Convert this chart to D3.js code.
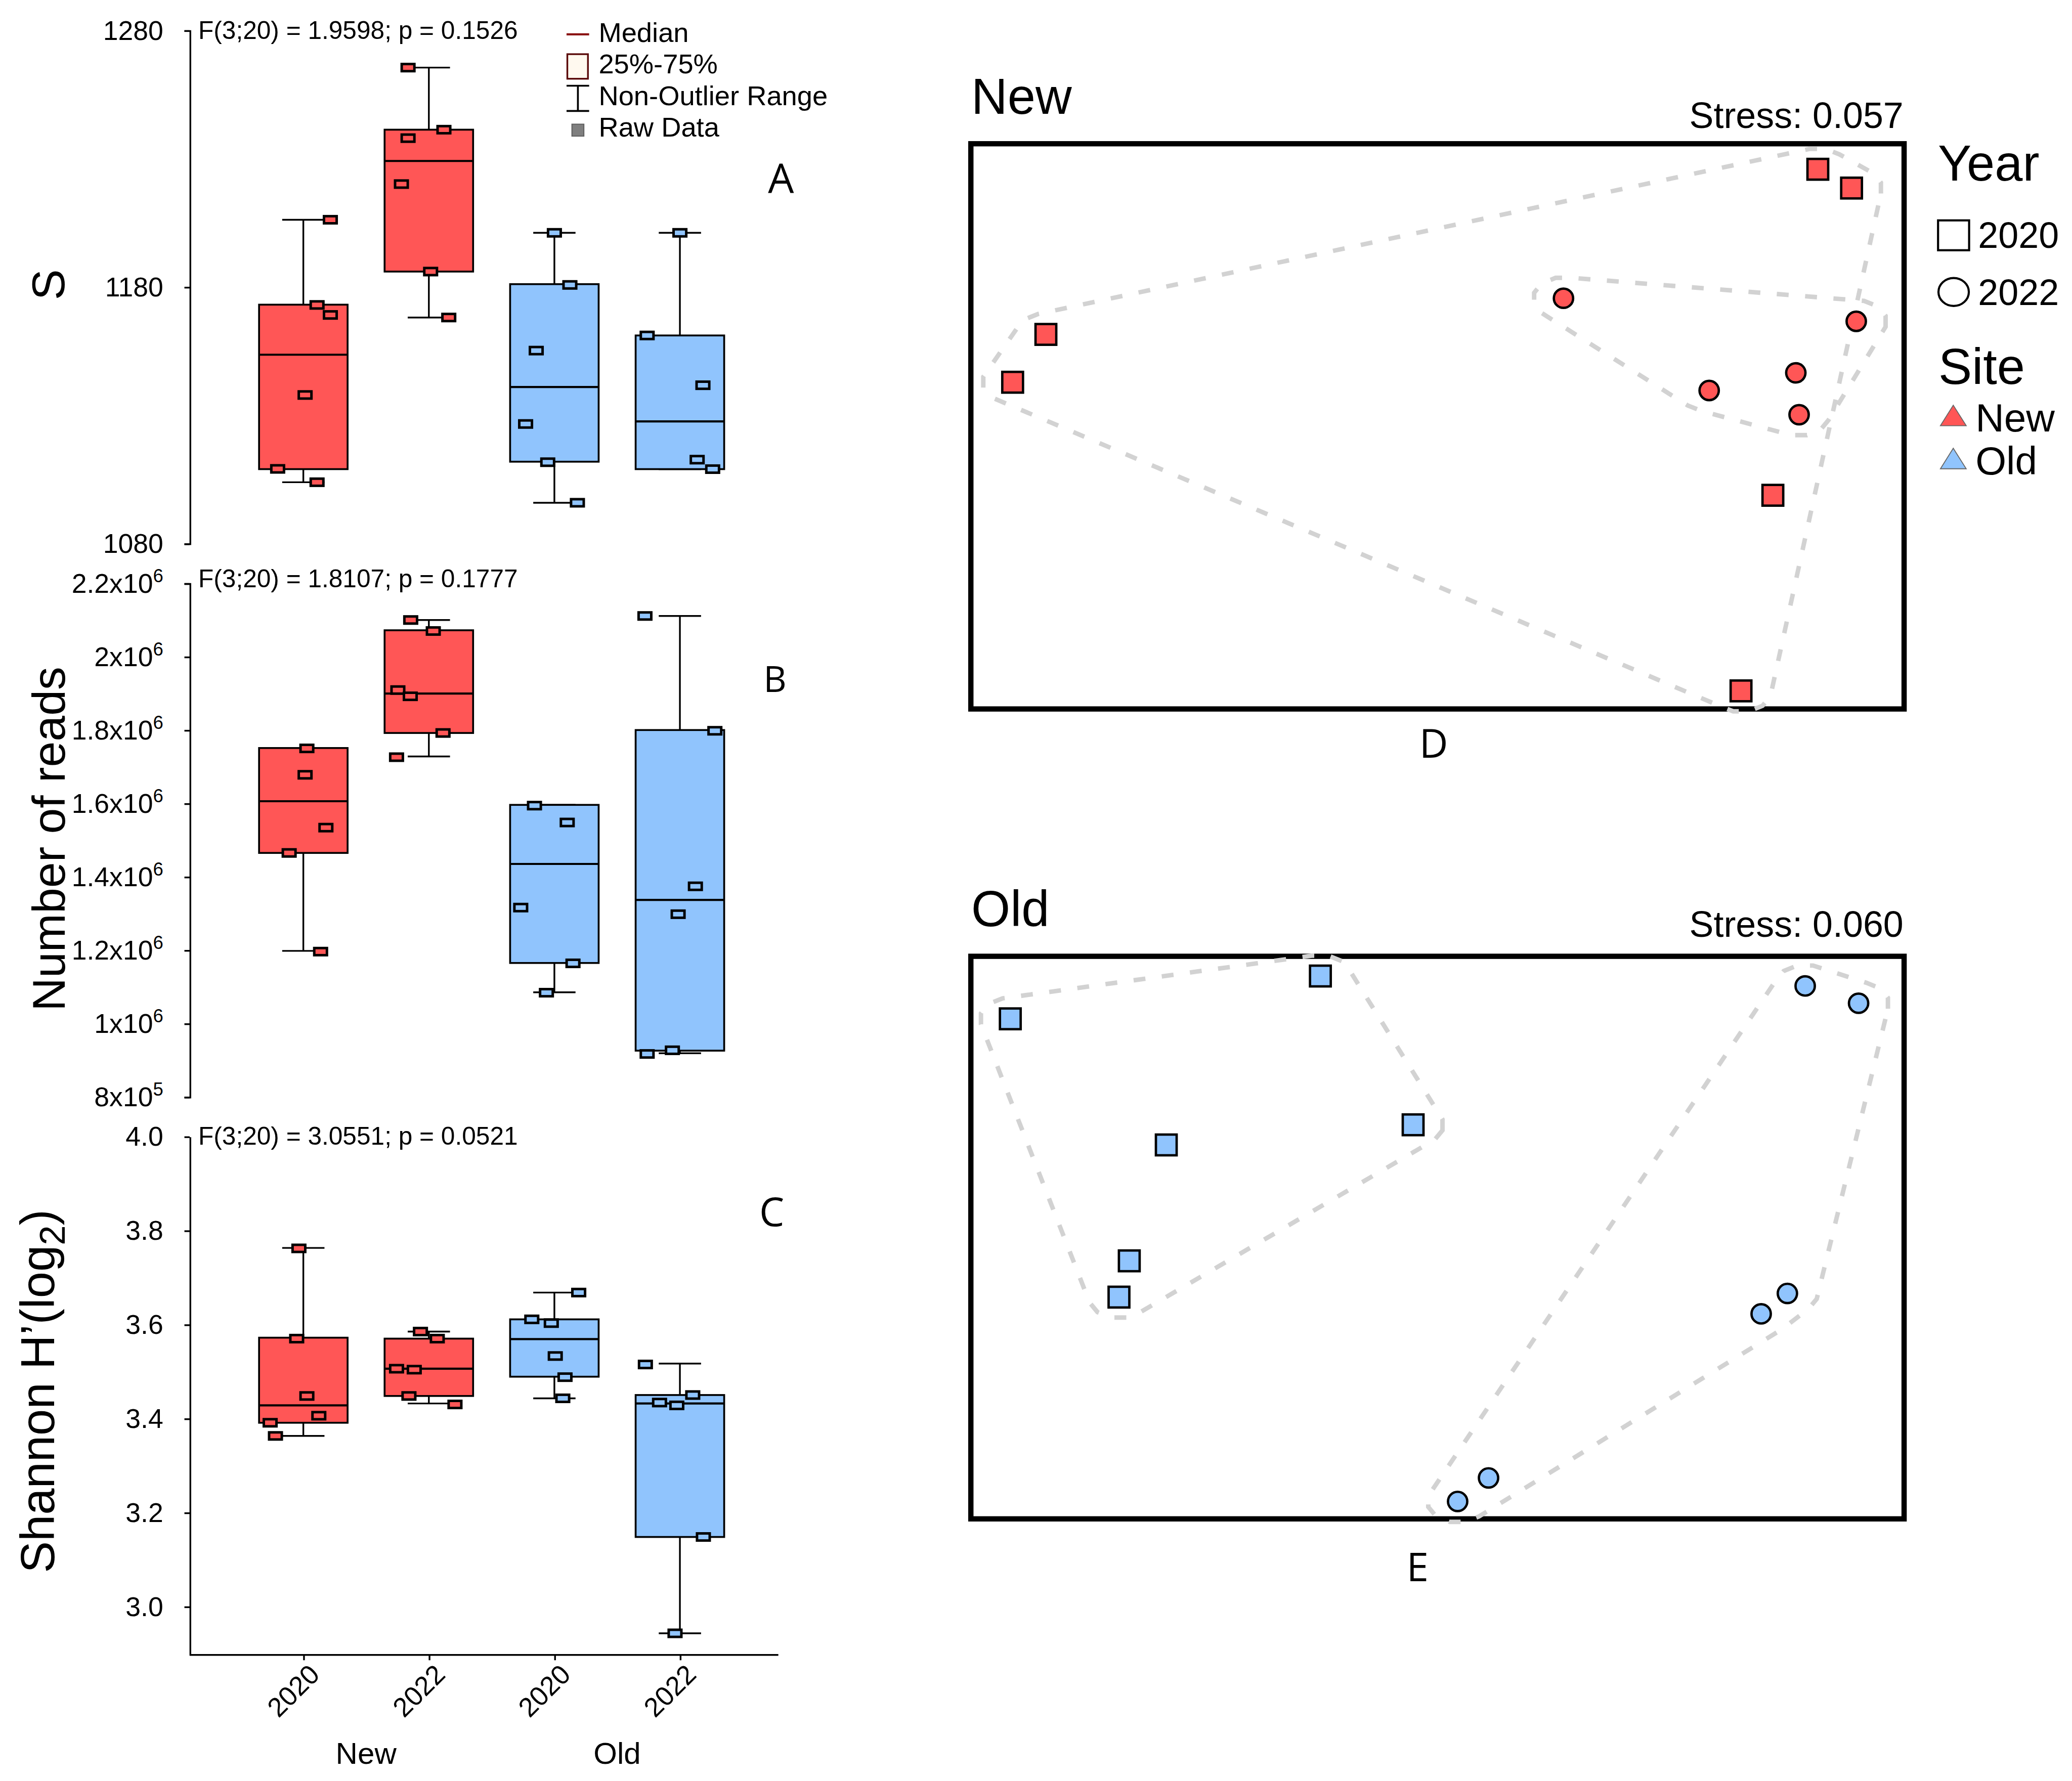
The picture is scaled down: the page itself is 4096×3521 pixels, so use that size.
<!DOCTYPE html>
<html>
<head>
<meta charset="utf-8">
<script src="https://cdn.jsdelivr.net/npm/d3@7"></script>
<style>
  body { margin: 0; background: #fff; }
  svg { display: block; font-family: "Liberation Sans", Arial, sans-serif; }
</style>
</head>
<body>
<script>
// box plot groups (site + sampling year)
const groups = ["New 2020", "New 2022", "Old 2020", "Old 2022"];
const groupSite = ["New", "New", "Old", "Old"];

// A: richness S
const sTicks = [1080, 1180, 1280];
const sMin = [1103.9, 1168.1, 1095.9, 1109.0];
const sQ1  = [1109.0, 1186.0, 1111.9, 1109.0];
const sMed = [1153.6, 1229.1, 1141.0, 1127.6];
const sQ3  = [1173.1, 1241.3, 1181.1, 1161.1];
const sMax = [1206.2, 1265.5, 1201.1, 1201.1];
const sRaw = [
  [1206.2, 1173.0, 1169.1, 1137.9, 1109.1, 1103.9],
  [1265.5, 1241.3, 1238.0, 1220.1, 1186.0, 1168.1],
  [1201.1, 1180.8, 1155.2, 1126.6, 1111.7, 1095.9],
  [1201.1, 1161.1, 1141.7, 1112.7, 1109.0]
];
const sJitter = [
  [0.61, 0.31, 0.61, 0.04, -0.58, 0.31],
  [-0.47, 0.34, -0.47, -0.62, 0.04, 0.45],
  [0, 0.35, -0.41, -0.65, -0.15, 0.52],
  [0, -0.74, 0.52, 0.39, 0.74]
];

// B: number of reads
const readsTicks = [8e5, 1e6, 1.2e6, 1.4e6, 1.6e6, 1.8e6, 2e6, 2.2e6];
const readsMin = [1.198e6, 1.728e6, 1.085e6, 0.919e6];
const readsQ1  = [1.465e6, 1.792e6, 1.165e6, 0.926e6];
const readsMed = [1.606e6, 1.8995e6, 1.435e6, 1.337e6];
const readsQ3  = [1.751e6, 2.072e6, 1.596e6, 1.800e6];
const readsMax = [1.751e6, 2.100e6, 1.596e6, 2.111e6];
const readsRaw = [
  [1.750e6, 1.678e6, 1.534e6, 1.465e6, 1.196e6],
  [2.100e6, 2.070e6, 1.909e6, 1.892e6, 1.792e6, 1.726e6],
  [1.594e6, 1.548e6, 1.316e6, 1.164e6, 1.084e6],
  [2.111e6, 1.798e6, 1.374e6, 1.298e6, 0.927e6, 0.917e6]
];
const readsJitter = [
  [0.08, 0.04, 0.51, -0.32, 0.39],
  [-0.41, 0.10, -0.70, -0.42, 0.32, -0.73],
  [-0.45, 0.29, -0.76, 0.42, -0.18],
  [-0.79, 0.79, 0.35, -0.04, -0.17, -0.74]
];

// C: Shannon H'
const hTicks = [3.0, 3.2, 3.4, 3.6, 3.8, 4.0];
const hMin = [3.363, 3.432, 3.443, 2.943];
const hQ1  = [3.391, 3.448, 3.489, 3.148];
const hMed = [3.428, 3.506, 3.569, 3.432];
const hQ3  = [3.572, 3.570, 3.611, 3.450];
const hMax = [3.763, 3.585, 3.668, 3.517];
const hRaw = [
  [3.762, 3.570, 3.448, 3.406, 3.391, 3.363],
  [3.585, 3.570, 3.506, 3.504, 3.448, 3.430],
  [3.668, 3.611, 3.603, 3.533, 3.488, 3.443],
  [3.515, 3.450, 3.434, 3.428, 3.148, 2.943]
];
const hJitter = [
  [-0.10, -0.15, 0.08, 0.35, -0.75, -0.63],
  [-0.19, 0.19, -0.73, -0.33, -0.45, 0.59],
  [0.55, -0.51, -0.07, 0.02, 0.24, 0.19],
  [-0.78, 0.29, -0.46, -0.07, 0.53, -0.11]
];

// D/E: NMDS scores (axes unlabelled in the figure)
const newSq2020X = [0.813, 0.885, -0.835, -0.906, 0.717, 0.649];
const newSq2020Y = [0.902, 0.836, 0.322, 0.154, -0.243, -0.930];
const newCi2022X = [0.270, 0.895, 0.766, 0.581, 0.773];
const newCi2022Y = [0.449, 0.368, 0.187, 0.125, 0.040];
const oldSq2020X = [-0.911, -0.249, -0.578, -0.051, -0.657, -0.679];
const oldSq2020Y = [0.771, 0.922, 0.326, 0.397, -0.083, -0.211];
const oldCi2022X = [0.786, 0.900, 0.748, 0.692, 0.110, 0.044];
const oldCi2022Y = [0.887, 0.826, -0.198, -0.270, -0.849, -0.932];

const siteColour = {New: "#ff5656", Old: "#90c4fd"};
const openSans = '"Open Sans", "Liberation Sans", sans-serif';

const svg = d3.select("body").append("svg")
    .attr("width", 4096)
    .attr("height", 3521)
    .attr("viewBox", "0 0 1568 1348");

const axisX = 143.5;
const x = d3.scalePoint().domain(groups).range([229.5, 514.5]);
const halfW = 33.5, capW = 16;

function boxPanel(cfg) {
  const y = d3.scaleLinear().domain(cfg.domain).range(cfg.range);
  const g = svg.append("g");

  const ag = g.append("g")
      .attr("transform", `translate(${axisX},0)`)
      .call(d3.axisLeft(y)
          .tickValues(cfg.ticks)
          .tickSize(4)
          .tickSizeOuter(cfg.outer)
          .tickPadding(16)
          .tickFormat(cfg.format))
      .attr("font-family", null)
      .attr("font-size", null);
  ag.selectAll("path, line").attr("stroke", "#000").attr("stroke-width", 1.3);
  ag.selectAll("text").attr("font-size", 20.5).attr("fill", "#000");
  if (cfg.post) cfg.post(ag);

  g.append("text")
      .attr("x", 150).attr("y", cfg.fY)
      .attr("font-size", 19)
      .text(cfg.fText);

  groups.forEach((grp, i) => {
    const cx = x(grp), col = siteColour[groupSite[i]];
    const wg = g.append("g").attr("stroke", "#000").attr("stroke-width", 1.3);
    wg.append("line").attr("x1", cx).attr("x2", cx).attr("y1", y(cfg.q3[i])).attr("y2", y(cfg.max[i]));
    wg.append("line").attr("x1", cx).attr("x2", cx).attr("y1", y(cfg.q1[i])).attr("y2", y(cfg.min[i]));
    wg.append("line").attr("x1", cx - capW).attr("x2", cx + capW).attr("y1", y(cfg.max[i])).attr("y2", y(cfg.max[i]));
    wg.append("line").attr("x1", cx - capW).attr("x2", cx + capW).attr("y1", y(cfg.min[i])).attr("y2", y(cfg.min[i]));

    g.append("rect")
        .attr("x", cx - halfW).attr("y", y(cfg.q3[i]))
        .attr("width", 2 * halfW).attr("height", y(cfg.q1[i]) - y(cfg.q3[i]))
        .attr("fill", col).attr("stroke", "#000").attr("stroke-width", 1.4);
    g.append("line")
        .attr("x1", cx - halfW).attr("x2", cx + halfW)
        .attr("y1", y(cfg.med[i])).attr("y2", y(cfg.med[i]))
        .attr("stroke", "#000").attr("stroke-width", 1.6);

    g.append("g").selectAll("rect")
      .data(cfg.raw[i].map((v, k) => [v, cfg.jitter[i][k]]))
      .join("rect")
        .attr("x", d => cx + d[1] * halfW - 4.8)
        .attr("y", d => y(d[0]) - 2.7)
        .attr("width", 9.6).attr("height", 5.4)
        .attr("fill", col).attr("stroke", "#000").attr("stroke-width", 1.9);
  });

  g.append("text")
      .attr("x", cfg.letterX).attr("y", cfg.letterY)
      .attr("text-anchor", "middle")
      .attr("font-family", openSans)
      .attr("font-size", cfg.letterSize)
      .text(cfg.letter);

  g.append("text")
      .attr("transform", `translate(${cfg.titleX},${cfg.titleY}) rotate(-90)`)
      .attr("text-anchor", "middle")
      .attr("font-size", cfg.titleSize)
      .call(cfg.title);
  return y;
}

// A
boxPanel({
  domain: [1080, 1280], range: [411.4, 23.0], ticks: sTicks, outer: 4, format: d => d,
  min: sMin, q1: sQ1, med: sMed, q3: sQ3, max: sMax, raw: sRaw, jitter: sJitter,
  fText: "F(3;20) = 1.9598; p = 0.1526", fY: 29.5,
  letter: "A", letterX: 591, letterY: 146, letterSize: 31,
  title: t => t.text("S"), titleX: 48.5, titleY: 215.5, titleSize: 35
});

// B
boxPanel({
  domain: [8e5, 2.2e6], range: [830.2, 441.5], ticks: readsTicks, outer: 4, format: d => d,
  post: ag => ag.selectAll(".tick text").each(function(d) {
    const e = Math.floor(Math.log10(d) + 1e-9);
    const m = +(d / Math.pow(10, e)).toFixed(1);
    const t = d3.select(this).text(null);
    t.append("tspan").text(m + "x10");
    t.append("tspan").attr("dy", -8).attr("font-size", 14).text(e);
  }),
  min: readsMin, q1: readsQ1, med: readsMed, q3: readsQ3, max: readsMax, raw: readsRaw, jitter: readsJitter,
  fText: "F(3;20) = 1.8107; p = 0.1777", fY: 444.5,
  letter: "B", letterX: 586.5, letterY: 523.6, letterSize: 27,
  title: t => t.text("Number of reads"), titleX: 49, titleY: 635, titleSize: 35
});

// C
const yC = boxPanel({
  domain: [2.897, 4.0], range: [1252.6, 860.2], ticks: hTicks, outer: 0, format: d3.format(".1f"),
  min: hMin, q1: hQ1, med: hMed, q3: hQ3, max: hMax, raw: hRaw, jitter: hJitter,
  fText: "F(3;20) = 3.0551; p = 0.0521", fY: 866.5,
  letter: "C", letterX: 584, letterY: 928.2, letterSize: 30,
  title: t => {
    t.append("tspan").text("Shannon H\u2019(log");
    t.append("tspan").attr("font-size", 27).attr("dy", 8).text("2");
    t.append("tspan").attr("dy", -8).text(")");
  },
  titleX: 41, titleY: 1053, titleSize: 36
});

// shared x axis under C
const xg = svg.append("g")
    .attr("transform", `translate(0,${yC.range()[0]})`)
    .call(d3.axisBottom(x).tickSize(4).tickSizeOuter(0).tickFormat(d => d.split(" ")[1]))
    .attr("font-family", null)
    .attr("font-size", null);
xg.select(".domain").attr("d", `M${axisX},0H589`);
xg.selectAll("path, line").attr("stroke", "#000").attr("stroke-width", 1.3);
xg.selectAll(".tick text")
    .attr("x", 0).attr("y", 0).attr("dy", 0)
    .attr("text-anchor", "end")
    .attr("transform", "translate(13,16) rotate(-45)")
    .attr("font-size", 20.5)
    .attr("fill", "#000");

["New", "Old"].forEach(site => {
  const xs = groups.filter((g, i) => groupSite[i] === site).map(x);
  svg.append("text")
      .attr("x", d3.mean(xs)).attr("y", 1335)
      .attr("text-anchor", "middle")
      .attr("font-size", 23)
      .text(site);
});

// legend of the box plots
const bl = svg.append("g");
bl.append("line").attr("x1", 428.7).attr("x2", 445.8).attr("y1", 26).attr("y2", 26)
    .attr("stroke", "#8b1414").attr("stroke-width", 1.6);
bl.append("rect").attr("x", 429.3).attr("y", 41).attr("width", 15.6).attr("height", 18.6)
    .attr("fill", "#fff9ef").attr("stroke", "#5a0a0a").attr("stroke-width", 1.3);
bl.append("path").attr("d", "M428.7,64.9H445.8M437.3,64.9V84M428.7,84H445.8")
    .attr("fill", "none").attr("stroke", "#000").attr("stroke-width", 1.4);
bl.append("rect").attr("x", 432.8).attr("y", 94).attr("width", 9).attr("height", 9)
    .attr("fill", "#7f7f7f").attr("stroke", "#606060").attr("stroke-width", 0.8);
[["Median", 31.9], ["25%-75%", 55.5], ["Non-Outlier Range", 79.6], ["Raw Data", 103.3]].forEach(([t, yy]) => {
  bl.append("text").attr("x", 453).attr("y", yy).attr("font-size", 20.8).text(t);
});

// NMDS panels: hull around each year, padded by a small ellipse
function paddedHull(pts, rx, ry) {
  const ring = [];
  pts.forEach(p => {
    for (let k = 0; k < 12; k++) {
      const a = 2 * Math.PI * (k + 0.5) / 12;
      ring.push([p[0] + rx * Math.cos(a), p[1] + ry * Math.sin(a)]);
    }
  });
  return d3.polygonHull(ring);
}

function nmdsPanel(cfg) {
  const nx = d3.scaleLinear().domain([-1, 1]).range([733, 1442]);
  const ny = d3.scaleLinear().domain([-1, 1]).range([cfg.bottom, cfg.top]);
  const g = svg.append("g");
  const col = siteColour[cfg.site];

  g.append("rect")
      .attr("x", 734.7).attr("y", cfg.top + 1.8)
      .attr("width", 706.3).attr("height", cfg.bottom - cfg.top - 3.2)
      .attr("fill", "none").attr("stroke", "#000").attr("stroke-width", 4);

  const sq = cfg.sqX.map((v, i) => [nx(v), ny(cfg.sqY[i])]);
  const ci = cfg.ciX.map((v, i) => [nx(v), ny(cfg.ciY[i])]);

  [sq, ci].forEach(pts => {
    g.append("path")
        .attr("d", "M" + paddedHull(pts, 23, 16).join("L") + "Z")
        .attr("fill", "none")
        .attr("stroke", "#d2d2d2")
        .attr("stroke-width", 3.4)
        .attr("stroke-dasharray", "9 12.5");
  });

  g.append("g").selectAll("rect").data(sq).join("rect")
      .attr("x", d => d[0] - 7.85).attr("y", d => d[1] - 7.85)
      .attr("width", 15.7).attr("height", 15.7)
      .attr("fill", col).attr("stroke", "#000").attr("stroke-width", 1.8);
  g.append("g").selectAll("circle").data(ci).join("circle")
      .attr("cx", d => d[0]).attr("cy", d => d[1]).attr("r", 7.3)
      .attr("fill", col).attr("stroke", "#000").attr("stroke-width", 1.8);

  g.append("text").attr("x", 735).attr("y", cfg.titleY).attr("font-size", 38).text(cfg.site);
  g.append("text").attr("x", 1440.5).attr("y", cfg.stressY).attr("text-anchor", "end")
      .attr("font-size", 27.5).text(cfg.stress);
  g.append("text").attr("x", cfg.letterX).attr("y", cfg.letterY).attr("text-anchor", "middle")
      .attr("font-family", openSans).attr("font-size", 30).text(cfg.letter);
}

nmdsPanel({
  site: "New", top: 107, bottom: 538,
  sqX: newSq2020X, sqY: newSq2020Y, ciX: newCi2022X, ciY: newCi2022Y,
  titleY: 86, stress: "Stress: 0.057", stressY: 97,
  letter: "D", letterX: 1085, letterY: 573.6
});
nmdsPanel({
  site: "Old", top: 722, bottom: 1151,
  sqX: oldSq2020X, sqY: oldSq2020Y, ciX: oldCi2022X, ciY: oldCi2022Y,
  titleY: 701, stress: "Stress: 0.060", stressY: 709,
  letter: "E", letterX: 1072.8, letterY: 1196.7
});

// NMDS legend
const lg = svg.append("g");
lg.append("text").attr("x", 1466.6).attr("y", 136.5).attr("font-size", 38).text("Year");
lg.append("rect").attr("x", 1466.7).attr("y", 166.8).attr("width", 23.5).attr("height", 22.6)
    .attr("fill", "none").attr("stroke", "#000").attr("stroke-width", 1.6);
lg.append("text").attr("x", 1497).attr("y", 187.5).attr("font-size", 27.5).text("2020");
lg.append("ellipse").attr("cx", 1478.5).attr("cy", 221).attr("rx", 11.5).attr("ry", 10.6)
    .attr("fill", "none").attr("stroke", "#000").attr("stroke-width", 1.6);
lg.append("text").attr("x", 1497).attr("y", 230.7).attr("font-size", 27.5).text("2022");
lg.append("text").attr("x", 1467).attr("y", 290.5).attr("font-size", 38).text("Site");
[["New", 322.2], ["Old", 354.8]].forEach(([s, yb]) => {
  lg.append("path")
      .attr("d", `M1468.5,${yb}L1478.2,${yb - 15.5}L1488,${yb}Z`)
      .attr("fill", siteColour[s]).attr("stroke", "#666").attr("stroke-width", 0.7);
  lg.append("text").attr("x", 1495).attr("y", yb + 4.3).attr("font-size", 30).text(s);
});
</script>
</body>
</html>
